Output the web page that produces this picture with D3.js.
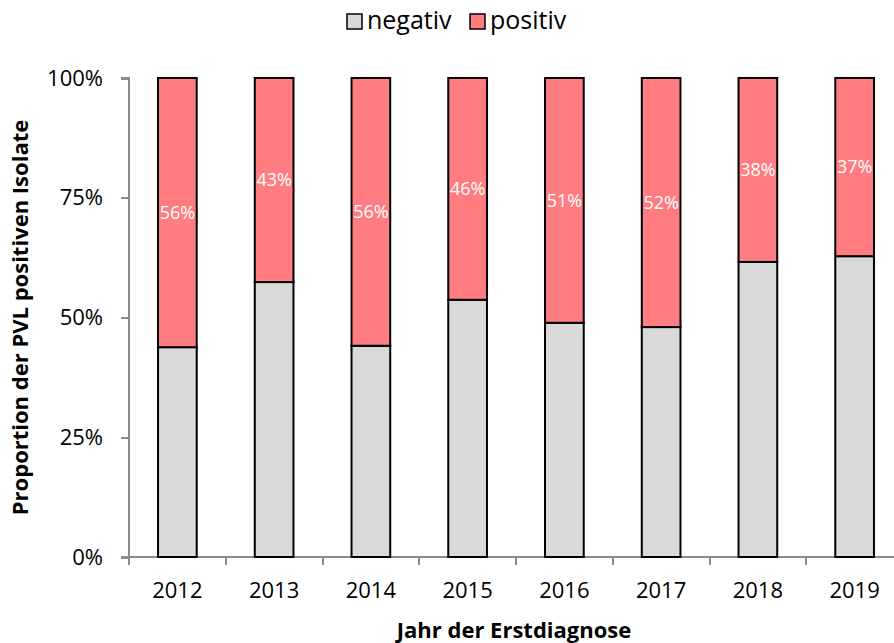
<html>
<head>
<meta charset="utf-8">
<title>PVL Anteil</title>
<style>
    body { margin: 0; background: #fff; }
    text { font-family: "Open Sans", "Noto Sans", sans-serif; }
    .axis path, .axis line { stroke: #8c8c8c; stroke-width: 2; fill: none; shape-rendering: crispEdges; }
    .axis text { font-size: 22px; fill: #000; }
</style>
<script src="https://cdn.jsdelivr.net/npm/d3@7"></script>
</head>
<body>
<script>
    var years = ["2012", "2013", "2014", "2015", "2016", "2017", "2018", "2019"];
    var positiv = [56.2, 42.6, 55.9, 46.3, 51.1, 52.0, 38.4, 37.2];
    var negativ = positiv.map(function(p) { return 100 - p; });
    var yTicks = [0, 25, 50, 75, 100];
    var seriesNames = ["negativ", "positiv"];
    var seriesColors = ["#d9d9d9", "#ff7c80"];

    var width = 894, height = 643;
    var margin = { top: 78, right: -9, bottom: 86, left: 129 };
    var innerW = width - margin.left - margin.right,
        innerH = height - margin.top - margin.bottom;

    var svg = d3.select("body").append("svg")
        .attr("width", width)
        .attr("height", height);

    var g = svg.append("g")
        .attr("transform", "translate(" + margin.left + "," + margin.top + ")");

    var x = d3.scaleBand().domain(years).range([0, innerW]).paddingInner(0.6).paddingOuter(0.3);
    var xb = d3.scaleBand().domain(years).range([0, innerW]);
    var y = d3.scaleLinear().domain([0, 100]).range([innerH, 0]);

    // y axis
    var yAxis = g.append("g").attr("class", "axis")
        .call(d3.axisLeft(y).tickValues(yTicks).tickSize(8).tickPadding(18)
            .tickFormat(function(d) { return d + "%"; }));
    yAxis.select(".domain").attr("d", "M0," + innerH + "V0H-8");

    // x axis with ticks at category boundaries
    var xAxis = g.append("g").attr("class", "axis")
        .attr("transform", "translate(0," + innerH + ")");
    xAxis.append("line").attr("x1", -8).attr("x2", innerW).attr("y1", 0).attr("y2", 0);
    xAxis.selectAll(".bt").data(years).enter().append("line")
        .attr("x1", function(d) { return xb(d); })
        .attr("x2", function(d) { return xb(d); })
        .attr("y1", 0).attr("y2", 8);
    xAxis.selectAll(".lbl").data(years).enter().append("text")
        .attr("x", function(d) { return xb(d) + xb.bandwidth() / 2; })
        .attr("y", 41)
        .attr("text-anchor", "middle")
        .text(function(d) { return d; });

    // bars
    var bars = g.selectAll(".bar").data(years).enter().append("g");
    bars.append("rect")
        .attr("x", function(d) { return x(d); })
        .attr("width", x.bandwidth())
        .attr("y", function(d, i) { return y(negativ[i]); })
        .attr("height", function(d, i) { return innerH - y(negativ[i]); })
        .attr("fill", seriesColors[0])
        .attr("stroke", "#000").attr("stroke-width", 2);
    bars.append("rect")
        .attr("x", function(d) { return x(d); })
        .attr("width", x.bandwidth())
        .attr("y", y(100))
        .attr("height", function(d, i) { return y(negativ[i]) - y(100); })
        .attr("fill", seriesColors[1])
        .attr("stroke", "#000").attr("stroke-width", 2);
    bars.append("text")
        .attr("x", function(d) { return x(d) + x.bandwidth() / 2; })
        .attr("y", function(d, i) { return (y(100) + y(negativ[i])) / 2; })
        .attr("dy", "0.35em")
        .attr("text-anchor", "middle")
        .attr("fill", "#fff")
        .style("font-size", "18px")
        .text(function(d, i) { return Math.round(positiv[i]) + "%"; });

    // axis titles
    svg.append("text")
        .attr("transform", "translate(28," + (margin.top + innerH / 2) + ") rotate(-90)")
        .attr("text-anchor", "middle")
        .style("font-size", "22px").style("font-weight", "bold")
        .text("Proportion der PVL positiven Isolate");
    svg.append("text")
        .attr("x", 514).attr("y", 638)
        .attr("text-anchor", "middle")
        .style("font-size", "22px").style("font-weight", "bold")
        .text("Jahr der Erstdiagnose");

    // legend
    var legX = [347, 470];
    var leg = svg.selectAll(".leg").data(seriesNames).enter().append("g")
        .attr("transform", function(d, i) { return "translate(" + legX[i] + ",14)"; });
    leg.append("rect").attr("width", 15).attr("height", 15)
        .attr("fill", function(d, i) { return seriesColors[i]; })
        .attr("stroke", "#000").attr("stroke-width", 1.5);
    leg.append("text").attr("x", 20).attr("y", 15)
        .style("font-size", "25px")
        .text(function(d) { return d; });
</script>
</body>
</html>
